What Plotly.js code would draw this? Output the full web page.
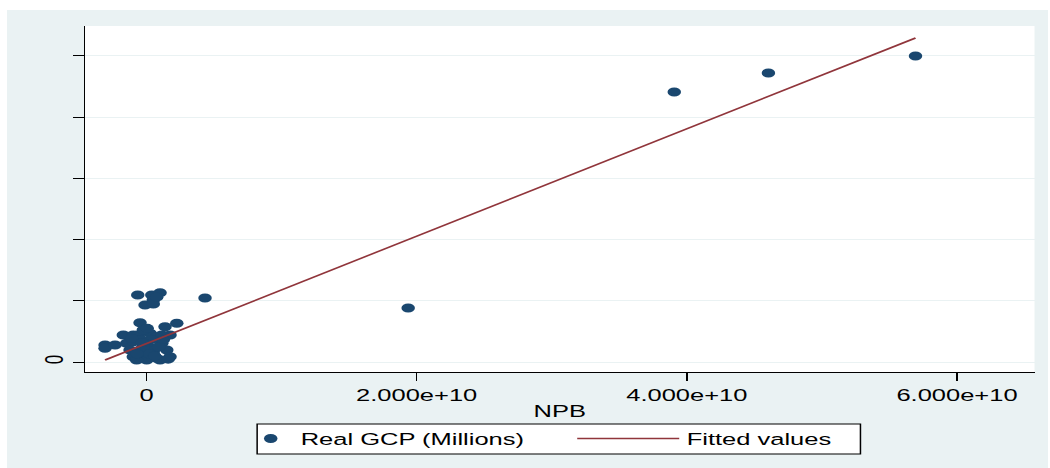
<!DOCTYPE html>
<html>
<head>
<meta charset="utf-8">
<script src="https://cdn.plot.ly/plotly-3.0.1.min.js"></script>
<style>
  html, body { margin: 0; padding: 0; background: #ffffff; width: 1050px; height: 468px; overflow: hidden; }
  #chart { position: absolute; left: 7px; top: 10px; width: 694px; height: 458px;
           transform: scaleX(1.5); transform-origin: 0 0; }
</style>
</head>
<body>
<div id="chart"></div>
<script>
// Scatter: NPB (x) vs Real GCP in millions (y)
const npb = [
  56.93e9, 46.04e9, 39.07e9, 19.37e9, 4.33e9,
  -0.65e9, 0.39e9, 1.00e9, 0.50e9, -0.11e9, 0.50e9, 0.75e9,
  -0.48e9, 2.24e9, 1.37e9, -1.72e9, -0.98e9, 0.26e9, 1.74e9,
  -3.07e9, -3.07e9, -2.33e9, -1.47e9, -0.98e9, 0.01e9, 1.13e9,
  1.50e9, -0.48e9, -1.22e9, 0.50e9, -0.98e9, -0.24e9, 0.76e9,
  1.74e9, 1.00e9, 0.01e9, -0.73e9, 0.50e9, -0.24e9, -0.61e9,
  -0.24e9, 0.76e9, 1.13e9, -0.40e9, 0.20e9, 0.90e9, -0.70e9,
  0.35e9, 1.25e9, -1.10e9, 0.60e9, 1.60e9, -0.30e9, 0.05e9
];
const realGCP = [
  1500000, 1416700, 1323500, 264700, 313700,
  328400, 328400, 339700, 303900, 279400, 284300, 318000,
  192600, 189700, 173000, 132400, 132400, 140700, 132400,
  83300, 67200, 83300, 91700, 99500, 99500, 91700,
  58800, 58800, 58800, 50500, 26000, 18100, 18100,
  26000, 9800, 9800, 9800, 67200, 75000, 132400,
  156900, 124000, 132400, 110000, 40000, 75000, 40000,
  110000, 110000, 115000, 30000, 14000, 95000, 165000
];
// Fitted values (linear fit endpoints)
const fitX = [-3.07e9, 56.93e9];
const fitY = [9800, 1588200];

// Tick labels
const xTickVals = [0, 2e10, 4e10, 6e10];
const xTickText = ['0', '2.000e+10', '4.000e+10', '6.000e+10'];
const yTickVals = [0, 300000, 600000, 900000, 1200000, 1500000];
const yTickText = ['0', '', '', '', '', ''];

const FONT = '"Liberation Sans", Arial, Helvetica, sans-serif';
const BG = '#eaf2f3';

const traces = [
  {
    x: npb, y: realGCP, type: 'scatter', mode: 'markers',
    name: 'Real GCP (Millions)',
    marker: { color: '#1a476f', size: 9, line: { width: 0 } },
    legend: 'legend'
  },
  {
    x: fitX, y: fitY, type: 'scatter', mode: 'lines',
    name: 'Fitted values',
    line: { color: '#90353b', width: 1.5 },
    legend: 'legend2'
  }
];

const layout = {
  width: 694, height: 458,
  margin: { l: 52, r: 9, t: 16, b: 96 },
  paper_bgcolor: BG,
  plot_bgcolor: '#ffffff',
  font: { family: FONT, size: 17, color: '#000000' },
  showlegend: true,
  xaxis: {
    range: [-4.556e9, 65.74e9],
    tickvals: xTickVals, ticktext: xTickText,
    ticks: 'outside', ticklen: 8, tickwidth: 1, tickcolor: '#000000',
    showline: true, linecolor: '#000000', linewidth: 1,
    showgrid: false, zeroline: false,
    title: { text: 'NPB', font: { size: 17 }, standoff: 0 }
  },
  yaxis: {
    range: [-49020, 1647000],
    tickvals: yTickVals, ticktext: yTickText,
    tickangle: -90,
    ticks: 'outside', ticklen: 7, tickwidth: 1, tickcolor: '#000000',
    showline: true, linecolor: '#000000', linewidth: 1,
    showgrid: true, gridcolor: BG, gridwidth: 1,
    zeroline: false
  },
  legend: {
    orientation: 'h', x: 0.164, xanchor: 'left', y: -0.1936, yanchor: 'middle',
    bgcolor: 'rgba(0,0,0,0)', borderwidth: 0, itemwidth: 30,
    font: { size: 17 }
  },
  legend2: {
    orientation: 'h', x: 0.5105, xanchor: 'left', y: -0.1936, yanchor: 'middle',
    bgcolor: 'rgba(0,0,0,0)', borderwidth: 0, itemwidth: 68,
    font: { size: 17 }
  },
  shapes: [
    {
      type: 'rect', xref: 'paper', yref: 'paper', layer: 'below',
      x0: 0.1813, x1: 0.8167, y0: -0.237, y1: -0.1503,
      line: { color: '#000000', width: 1 }, fillcolor: '#ffffff'
    }
  ]
};

Plotly.newPlot('chart', traces, layout, { displayModeBar: false, staticPlot: true });
</script>
</body>
</html>
